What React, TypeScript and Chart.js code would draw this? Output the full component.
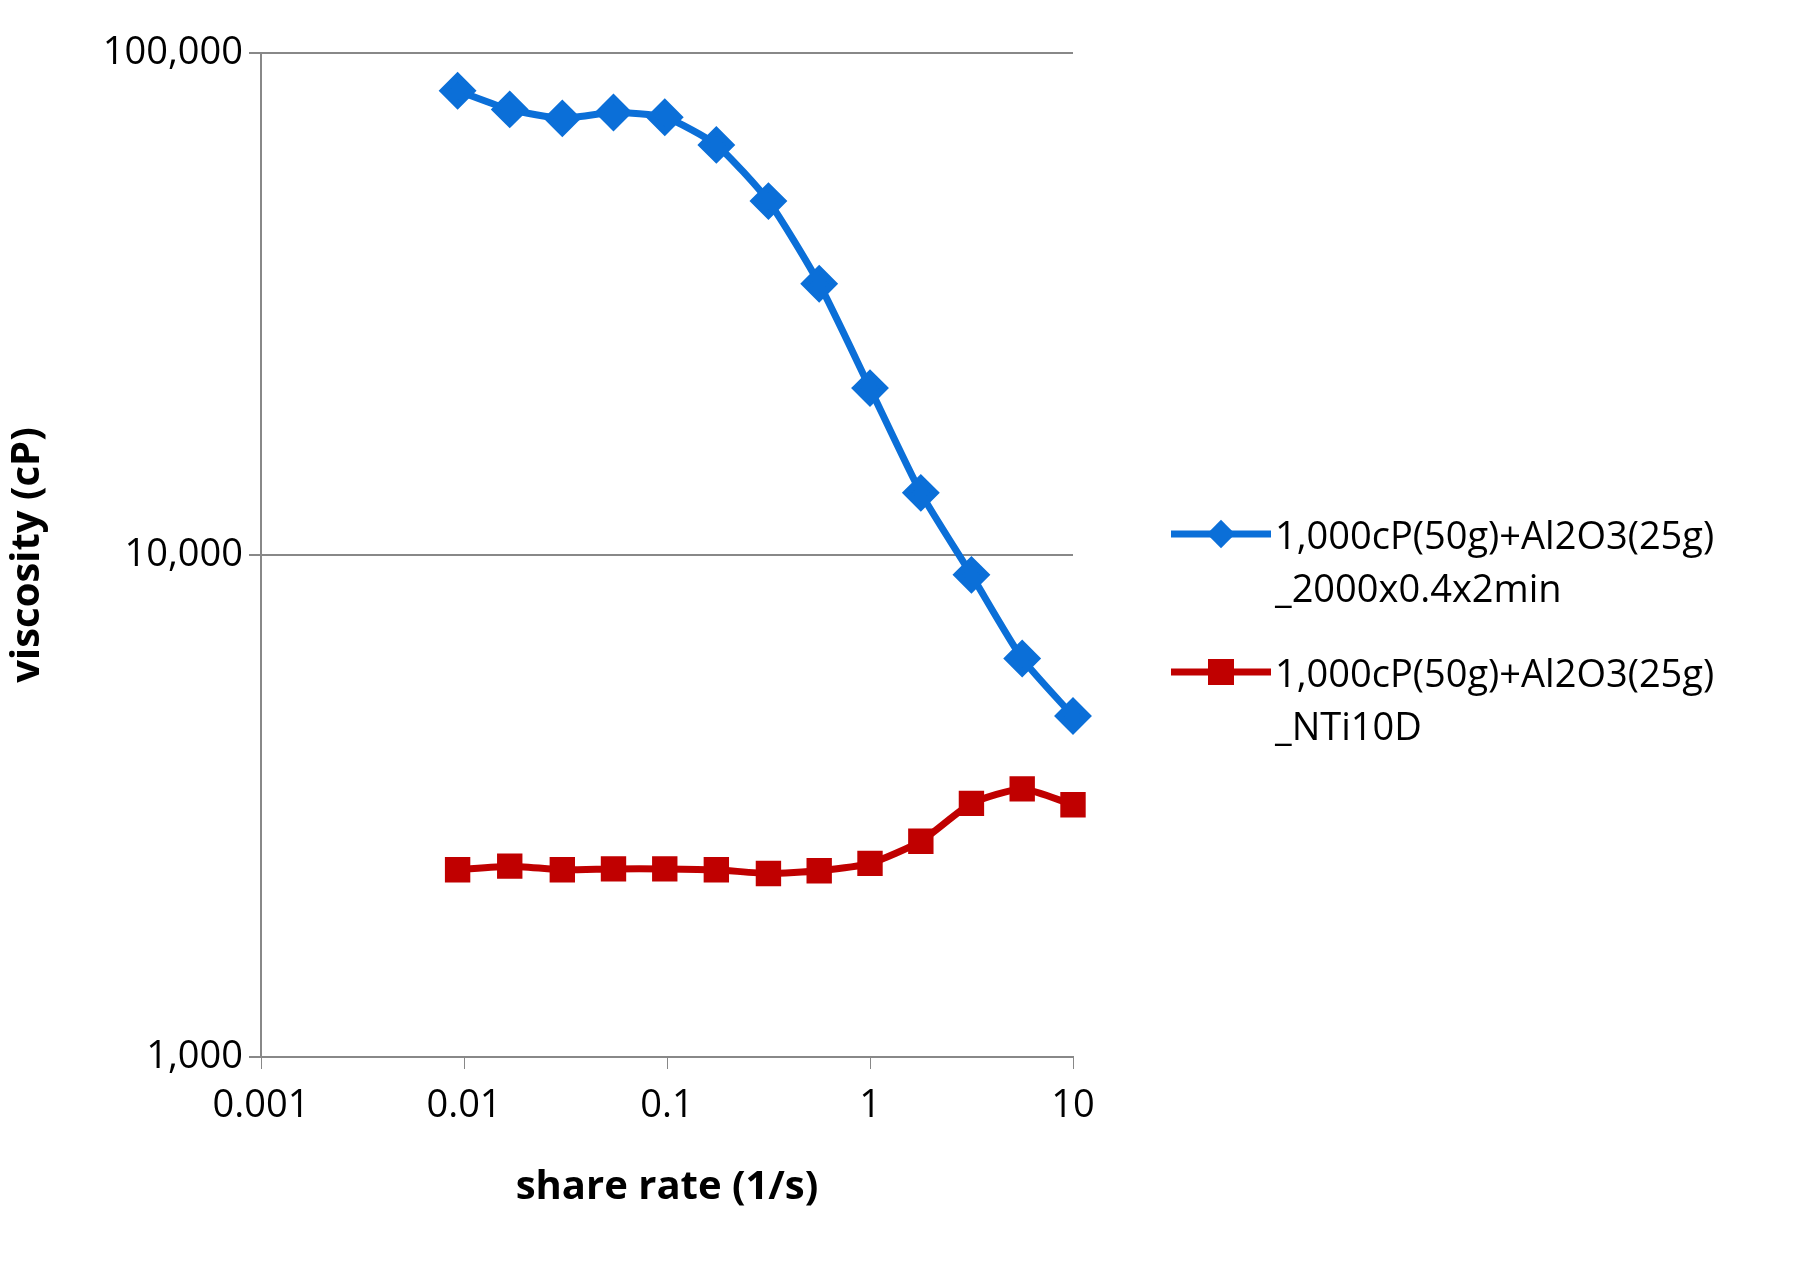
import React, { useEffect, useRef } from "react";
import { Chart, registerables } from "chart.js";
Chart.register(...registerables);

const shearRates = [0.0093, 0.0168, 0.0305, 0.0545, 0.0975, 0.175, 0.316, 0.562, 1, 1.78, 3.16, 5.62, 10];
const seriesA = [84100, 77200, 74100, 76100, 74500, 65600, 50700, 34700, 21500, 13300, 9130, 6220, 4780];
const seriesB = [2360, 2400, 2360, 2370, 2370, 2360, 2320, 2350, 2430, 2690, 3200, 3420, 3180];
const xTicks = [0.001, 0.01, 0.1, 1, 10];
const yTicks = [1000, 10000, 100000];
const labelA = ["1,000cP(50g)+Al2O3(25g)", "_2000x0.4x2min"];
const labelB = ["1,000cP(50g)+Al2O3(25g)", "_NTi10D"];
const BLUE = "#0b6fd8";
const RED = "#c00000";
const FONT = "'Open Sans', 'Liberation Sans', sans-serif";

export default function App() {
  const ref = useRef<HTMLCanvasElement>(null);
  useEffect(() => {
    document.body.style.margin = "0";
    const chart = new Chart(ref.current!, {
      type: "line",
      data: {
        datasets: [
          { data: shearRates.map((x, i) => ({ x, y: seriesA[i] })), borderColor: BLUE, backgroundColor: BLUE, borderWidth: 7, pointStyle: "rectRot", pointRadius: 14, tension: 0.2, clip: false },
          { data: shearRates.map((x, i) => ({ x, y: seriesB[i] })), borderColor: RED, backgroundColor: RED, borderWidth: 7, pointStyle: "rect", pointRadius: 13, tension: 0.2, clip: false },
        ],
      },
      options: {
        animation: false,
        responsive: false,
        layout: { padding: { top: 53, right: 727, left: 0, bottom: 70 } },
        plugins: { legend: { display: false }, tooltip: { enabled: false } },
        scales: {
          x: {
            type: "logarithmic", min: 0.001, max: 10,
            afterBuildTicks: (s: any) => { s.ticks = xTicks.map((v) => ({ value: v })); },
            afterFit: (s: any) => { s.height = 159; },
            ticks: { callback: (v: any) => String(Number(v)), font: { family: FONT, size: 38 }, color: "#000", padding: 14, maxRotation: 0 },
            grid: { display: true, drawOnChartArea: false, drawTicks: true, tickLength: 12, color: "#888" },
            border: { color: "#888", width: 2 },
            title: { display: true, text: "share rate (1/s)", font: { family: FONT, size: 40, weight: "bold" }, color: "#000", padding: { top: 10 } },
          },
          y: {
            type: "logarithmic", min: 1000, max: 100000,
            afterBuildTicks: (s: any) => { s.ticks = yTicks.map((v) => ({ value: v })); },
            afterFit: (s: any) => { s.width = 261; },
            ticks: { callback: (v: any) => Number(v).toLocaleString("en-US"), font: { family: FONT, size: 38 }, color: "#000", padding: 6 },
            grid: { color: "#888", lineWidth: 2, tickLength: 12 },
            border: { color: "#888", width: 2 },
            title: { display: true, text: "viscosity (cP)", font: { family: FONT, size: 40, weight: "bold" }, color: "#000", padding: { bottom: 20 } },
          },
        },
      },
    });
    return () => chart.destroy();
  }, []);

  const item = (lines: string[], color: string, marker: "d" | "s", top: number) => (
    <div style={{ position: "absolute", left: 1171, top, fontFamily: FONT, fontSize: 38, lineHeight: "53px", color: "#000" }}>
      <svg width={100} height={40} style={{ position: "absolute", left: 0, top: 6 }}>
        <line x1={0} y1={20} x2={100} y2={20} stroke={color} strokeWidth={7} />
        {marker === "d" ? (
          <rect x={40} y={10} width={20} height={20} fill={color} transform="rotate(45 50 20)" />
        ) : (
          <rect x={37} y={7} width={26} height={26} fill={color} />
        )}
      </svg>
      <div style={{ marginLeft: 104, whiteSpace: "nowrap" }}>
        {lines.map((l, i) => <div key={i}>{l}</div>)}
      </div>
    </div>
  );

  return (
    <div style={{ position: "relative", width: 1800, height: 1286, background: "#fff" }}>
      <canvas ref={ref} width={1800} height={1286} />
      {item(labelA, BLUE, "d", 508)}
      {item(labelB, RED, "s", 646)}
    </div>
  );
}
